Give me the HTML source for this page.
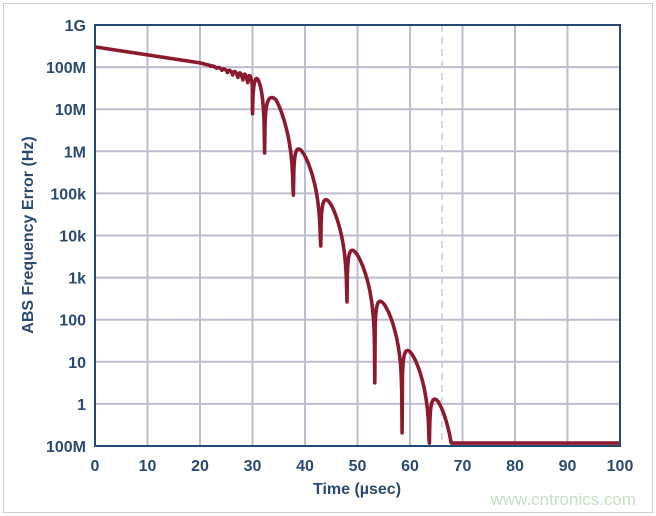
<!DOCTYPE html>
<html><head><meta charset="utf-8"><style>
html,body{margin:0;padding:0;background:#fff;}
body{width:656px;height:516px;overflow:hidden;position:relative;font-family:"Liberation Sans",Arial,sans-serif;}
.frame{position:absolute;left:3px;top:3px;width:648px;height:508px;border:1px solid #cfcfcf;}
</style></head><body>
<div class="frame"></div>
<svg id="s" width="656" height="516" style="position:absolute;left:0;top:0" xmlns="http://www.w3.org/2000/svg">
<g id="grid" stroke="#bdbdcf" stroke-width="2"></g>
<line x1="442" y1="25" x2="442" y2="446" stroke="#c8c8d4" stroke-width="1.5" stroke-dasharray="7,5"/>
<path id="curve" fill="none" stroke="#8c1a2e" stroke-width="3.6" stroke-linejoin="round"/>
<rect x="95" y="25" width="525" height="421" fill="none" stroke="#234a70" stroke-width="2"/>
<g id="lbl" font-family="Liberation Sans, Arial, sans-serif" font-weight="bold" font-size="16" fill="#2b4a70"></g>
<text x="357" y="494" text-anchor="middle" font-family="Liberation Sans, Arial, sans-serif" font-weight="bold" font-size="16" fill="#2b4a70">Time (µsec)</text>
<text transform="translate(33,235) rotate(-90)" text-anchor="middle" font-family="Liberation Sans, Arial, sans-serif" font-weight="bold" font-size="16" fill="#2b4a70">ABS Frequency Error (Hz)</text>
<text x="636" y="505" text-anchor="end" font-family="Liberation Sans, Arial, sans-serif" font-size="17" fill="#c5dfc0">www.cntronics.com</text>
</svg>
<script>
var X=function(t){return 95+5.25*t}, Y=function(d){return 25+(9-d)*42.1};
var g=document.getElementById('grid'),l=document.getElementById('lbl'),ns="http://www.w3.org/2000/svg";
function el(p,n,a,txt){var e=document.createElementNS(ns,n);for(var k in a)e.setAttribute(k,a[k]);if(txt)e.textContent=txt;p.appendChild(e);}
for(var i=1;i<10;i++){el(g,'line',{x1:X(i*10),x2:X(i*10),y1:25,y2:446});el(g,'line',{x1:95,x2:620,y1:25+i*42.1,y2:25+i*42.1});}
var yl=["1G","100M","10M","1M","100k","10k","1k","100","10","1","100M"];
for(var i=0;i<=10;i++)el(l,'text',{x:86,y:25+i*42.1+6,'text-anchor':'end'},yl[i]);
for(var i=0;i<=10;i++)el(l,'text',{x:X(i*10),y:471,'text-anchor':'middle'},String(i*10));
var ep=[[0,8.48],[20,8.1],[28,7.85],[30.7,7.75],[34.5,7.22],[39.5,6.0],[44.5,4.84],[49.5,3.65],[54.7,2.46],[60,1.27],[65.3,0.08],[70,-1.1]];
function E(t){for(var i=0;i<ep.length-1;i++){if(t<=ep[i+1][0]){var a=ep[i],b=ep[i+1];return a[1]+(b[1]-a[1])*(t-a[0])/(b[0]-a[0]);}}return -1.1;}
var segs=[];
var t0=22;var per=1.1;
while(t0<29.6){var p=per;segs.push([t0,t0+p,null,0.02+0.2*Math.pow((t0-22)/7.6,1.5)]);t0+=p;per=Math.max(0.9,per-0.03);}
segs.push([t0,32.3,5.96]);
var dips=[[32.3,5.96],[37.8,4.96],[43,3.75],[48,2.42],[53.3,0.5],[58.5,-0.69],[63.7,-1.05],[68.6,-1.05]];
for(var i=0;i<dips.length-1;i++)segs.push([dips[i][0],dips[i+1][0],dips[i+1][1]]);
var pts=[];
for(var t=0;t<=22;t+=0.25)pts.push([t,E(t)]);
segs.forEach(function(s){
 var a=s[0],b=s[1],n=70;
 for(var k=1;k<=n;k++){var t=a+(b-a)*k/n;var u=(t-a)/(b-a);var w=Math.pow(u,0.8);
  var sv=Math.abs(Math.sin(Math.PI*w));var d;
  if(s[2]===null){d=E(t)-s[3]*(1-sv);}
  else{d=E(t)+Math.log10(Math.max(sv,1e-9))*0.9;if(d<s[2])d=s[2];}
  if(d<-0.93)d=-0.93;
  pts.push([t,d]);}
});
pts.push([100,-0.93]);
var dd=pts.map(function(p,i){return(i?'L':'M')+X(p[0]).toFixed(1)+' '+Y(p[1]).toFixed(1)}).join(' ');
document.getElementById('curve').setAttribute('d',dd);
</script>
</body></html>
